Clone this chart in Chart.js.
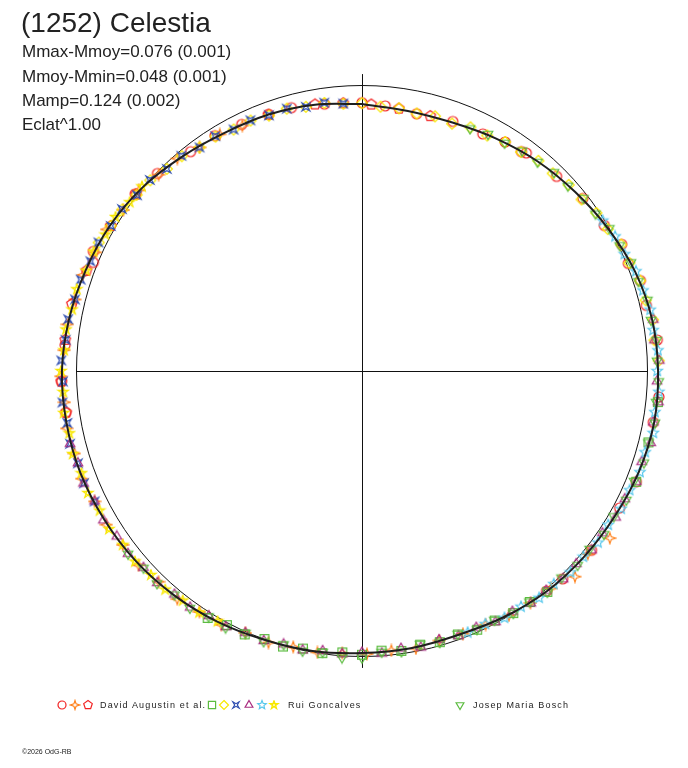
<!DOCTYPE html>
<html>
<head>
<meta charset="utf-8">
<script src="https://cdn.jsdelivr.net/npm/chart.js@4.4.1/dist/chart.umd.min.js"></script>
<style>
  body { margin: 0; background: #fff; }
  #wrap { position: relative; width: 688px; height: 768px; font-family: "Liberation Sans", Arial, sans-serif; color: #222; }
  #polar { position: absolute; left: 0; top: 0; }
  .txt { position: absolute; white-space: nowrap; line-height: 1; }
  #title { left: 21px; top: 9px; font-size: 28px; }
  .stat { left: 22px; font-size: 17px; }
  .leg { font-size: 9px; letter-spacing: 1.15px; top: 701px; }
  #copy { left: 22px; top: 748px; font-size: 7px; }
</style>
</head>
<body>
<div id="wrap">
  <canvas id="polar" width="688" height="768"></canvas>
  <div class="txt" id="title">(1252) Celestia</div>
  <div class="txt stat" style="top:43px">Mmax-Mmoy=0.076 (0.001)</div>
  <div class="txt stat" style="top:68px">Mmoy-Mmin=0.048 (0.001)</div>
  <div class="txt stat" style="top:92px">Mamp=0.124 (0.002)</div>
  <div class="txt stat" style="top:116px">Eclat^1.00</div>
  <div class="txt leg" style="left:100px">David Augustin et al.</div>
  <div class="txt leg" style="left:288px">Rui Goncalves</div>
  <div class="txt leg" style="left:473px">Josep Maria Bosch</div>
  <div class="txt" id="copy">©2026 OdG-RB</div>
</div>
<script>
// Mean lightcurve (phase in degrees, clockwise from top; relative flux, 1 = circle)
const curvePhase = [0, 10, 20, 30, 40, 50, 60, 70, 80, 90, 100, 110, 120, 130, 140, 150, 160, 170,
                    180, 190, 200, 210, 220, 230, 240, 250, 260, 270, 280, 290, 300, 310, 320, 330, 340, 350];
const curveFlux = [0.935, 0.925, 0.926, 0.940, 0.958, 0.975, 0.996, 1.018, 1.032, 1.037, 1.039, 1.032,
                   1.021, 1.014, 1.007, 0.995, 0.984, 0.986, 0.988, 0.996, 1.002, 1.014, 1.025, 1.035,
                   1.042, 1.049, 1.051, 1.051, 1.042, 1.030, 1.019, 1.002, 0.980, 0.963, 0.956, 0.947];

// David Augustin et al.
const augCirclePhase = [262, 268, 275, 292, 294, 308, 314, 322, 328, 334, 340, 345, 352, 0, 5, 12, 20, 27,
                        32, 36, 37, 45, 52, 59, 64, 68, 72, 77, 84, 95, 100, 112, 118, 128, 136, 140];
const augCircleFlux = [1.048, 1.053, 1.044, 1.015, 1.030, 1.008, 0.996, 0.975, 0.972, 0.961, 0.957, 0.955,
                       0.944, 0.940, 0.932, 0.921, 0.930, 0.932, 0.946, 0.950, 0.956, 0.964, 0.982, 0.990,
                       1.012, 1.006, 1.025, 1.022, 1.040, 1.044, 1.036, 1.036, 1.022, 1.020, 1.012, 1.006];
const augStarPhase = [124, 129, 134, 139, 144, 149, 154, 159, 164, 169, 174, 179, 184, 189, 194, 199, 204,
                      209, 214, 219, 224, 229, 234, 239, 244, 249, 254, 259, 264, 269, 274, 279, 284, 289,
                      294, 299, 304, 309, 314, 319, 324, 329, 334];
const augStarFlux = [1.047, 1.018, 1.037, 1.009, 1.004, 0.999, 0.988, 0.986, 0.982, 0.990, 0.984, 0.991,
                     0.990, 0.998, 0.996, 1.006, 1.004, 1.016, 1.018, 1.028, 1.026, 1.037, 1.036, 1.045,
                     1.042, 1.052, 1.048, 1.054, 1.048, 1.055, 1.046, 1.045, 1.036, 1.034, 1.022, 1.023,
                     1.008, 1.006, 0.990, 0.986, 0.968, 0.967, 0.956];
const augPentaPhase = [340, 350, 356, 2, 8, 15, 262, 268, 276, 283, 290, 300, 308];
const augPentaFlux = [0.955, 0.948, 0.940, 0.934, 0.928, 0.924, 1.046, 1.054, 1.045, 1.043, 1.027, 1.016, 1.004];

// Rui Goncalves
const rgSquarePhase = [96, 104, 112, 140, 144, 148, 152, 156, 160, 164, 168, 172, 176, 180, 184, 188, 192,
                       196, 200, 204, 208, 212];
const rgSquareFlux = [1.042, 1.034, 1.036, 1.010, 1.000, 1.000, 0.990, 0.992, 0.982, 0.988, 0.980, 0.990,
                      0.982, 0.994, 0.988, 0.998, 0.994, 1.004, 0.999, 1.010, 1.008, 1.020];
const rgDiamondPhase = [296, 300, 304, 308, 312, 316, 320, 324, 328, 332, 336, 340, 344, 348, 352, 356, 0,
                        4, 8, 12, 16, 20, 24, 28, 32, 36, 40, 44, 48, 52, 56, 60, 64, 68, 72, 76, 80, 84, 88];
const rgDiamondFlux = [1.026, 1.016, 1.012, 1.002, 0.998, 0.984, 0.982, 0.968, 0.968, 0.958, 0.960, 0.952,
                       0.956, 0.946, 0.948, 0.938, 0.938, 0.928, 0.929, 0.922, 0.928, 0.922, 0.934, 0.934,
                       0.946, 0.948, 0.961, 0.962, 0.974, 0.976, 0.990, 0.994, 1.010, 1.010, 1.024, 1.024,
                       1.035, 1.030, 1.040];
const rgNavyPhase = [244, 248, 252, 256, 260, 264, 268, 272, 276, 280, 284, 288, 292, 296, 300, 304, 308,
                     312, 316, 320, 324, 328, 332, 336, 340, 344, 348, 352, 356];
const rgNavyFlux = [1.042, 1.050, 1.046, 1.054, 1.048, 1.055, 1.048, 1.054, 1.044, 1.045, 1.036, 1.036,
                    1.026, 1.027, 1.016, 1.014, 1.000, 1.000, 0.984, 0.984, 0.968, 0.970, 0.958, 0.961,
                    0.953, 0.956, 0.946, 0.949, 0.939];
const rgTrianglePhase = [80, 84, 88, 92, 96, 100, 104, 108, 112, 116, 120, 124, 128, 132, 136, 140, 144, 148,
                         152, 156, 160, 164, 168, 172, 176, 180, 184, 188, 192, 196, 200, 204, 208, 212,
                         216, 220, 224, 228, 232, 236, 240, 244, 248, 252, 256];
const rgTriangleFlux = [1.036, 1.030, 1.042, 1.034, 1.044, 1.036, 1.042, 1.030, 1.036, 1.024, 1.026, 1.016,
                        1.020, 1.010, 1.014, 1.004, 1.006, 0.994, 0.996, 0.984, 0.988, 0.980, 0.990, 0.982,
                        0.992, 0.986, 0.994, 0.990, 1.000, 0.996, 1.006, 1.004, 1.016, 1.012, 1.024, 1.022,
                        1.032, 1.030, 1.040, 1.036, 1.046, 1.042, 1.052, 1.046, 1.054];
const rgCyanPhase = [58, 62, 66, 70, 74, 78, 82, 86, 90, 94, 98, 102, 106, 110, 114, 118, 122, 126, 130,
                     134, 138, 142, 146, 150, 154, 158];
const rgCyanFlux = [0.994, 1.004, 1.006, 1.021, 1.024, 1.032, 1.030, 1.039, 1.034, 1.042, 1.036, 1.043,
                    1.032, 1.036, 1.026, 1.028, 1.017, 1.022, 1.012, 1.015, 1.004, 1.008, 0.996, 0.998,
                    0.986, 0.988];
const rgYellowStarPhase = [210, 214, 218, 222, 226, 230, 234, 238, 242, 246, 250, 254, 258, 262, 266, 270,
                           274, 278, 282, 286, 290, 294, 298, 302, 306, 310];
const rgYellowStarFlux = [1.012, 1.020, 1.020, 1.030, 1.028, 1.038, 1.036, 1.045, 1.041, 1.051, 1.046, 1.054,
                          1.048, 1.055, 1.049, 1.054, 1.046, 1.047, 1.038, 1.039, 1.028, 1.029, 1.018, 1.018,
                          1.006, 1.006];

// Josep Maria Bosch
const boschPhase = [24, 28, 32, 36, 40, 44, 48, 52, 56, 60, 64, 68, 72, 76, 80, 84, 88, 92, 96, 100, 104,
                    108, 112, 116, 120, 124, 128, 132, 136, 140, 144, 148, 152, 156, 160, 164, 168, 172,
                    176, 180, 184, 188, 192, 196, 200, 204, 208, 212, 216, 220, 224, 228, 232];
const boschFlux = [0.930, 0.940, 0.942, 0.954, 0.956, 0.968, 0.970, 0.984, 0.986, 1.000, 1.004, 1.016,
                   1.018, 1.030, 1.028, 1.038, 1.034, 1.040, 1.036, 1.042, 1.034, 1.038, 1.028, 1.030,
                   1.018, 1.022, 1.012, 1.016, 1.006, 1.010, 0.998, 1.000, 0.988, 0.990, 0.980, 0.988,
                   0.978, 0.992, 0.986, 1.004, 1.006, 0.994, 1.002, 0.996, 1.008, 1.004, 1.018, 1.014,
                   1.026, 1.022, 1.034, 1.030, 1.040];

// page layout: circle centre and radius in pixels
const CX = 362, CY = 371, R_PX = 285.5, W = 688, H = 768;

function toXY(phases, fluxes) {
    return phases.map((p, i) => {
        const a = p * Math.PI / 180;
        return { x: fluxes[i] * Math.sin(a), y: fluxes[i] * Math.cos(a) };
    });
}

/**
 * Small outline symbols used as point styles
 */
function makeSymbol(shape, color, size) {
    const c = document.createElement('canvas');
    c.width = c.height = size + 3;
    const g = c.getContext('2d');
    const m = (size + 3) / 2, r = size / 2;
    g.strokeStyle = color;
    g.lineWidth = 1.2;
    const star = (n, rot, inner) => {
        for (let k = 0; k < n * 2; k++) {
            const rr = k % 2 ? r * inner : r;
            const a = rot + k * Math.PI / n;
            const px = m + rr * Math.cos(a), py = m + rr * Math.sin(a);
            k ? g.lineTo(px, py) : g.moveTo(px, py);
        }
        g.closePath();
    };
    const poly = (n, rot) => {
        for (let k = 0; k < n; k++) {
            const a = rot + k * 2 * Math.PI / n;
            const px = m + r * Math.cos(a), py = m + r * Math.sin(a);
            k ? g.lineTo(px, py) : g.moveTo(px, py);
        }
        g.closePath();
    };
    g.beginPath();
    switch (shape) {
        case 'circle': g.arc(m, m, r - 0.5, 0, Math.PI * 2); break;
        case 'star4': star(4, -Math.PI / 2, 0.35); break;
        case 'star4x': star(4, -Math.PI / 4, 0.3); break;
        case 'pentagon': poly(5, -Math.PI / 2); break;
        case 'square': g.rect(m - r * 0.8, m - r * 0.8, r * 1.6, r * 1.6); break;
        case 'diamond': poly(4, -Math.PI / 2); break;
        case 'triangle': poly(3, -Math.PI / 2); break;
        case 'triangleDown': poly(3, Math.PI / 2); break;
        case 'star5': star(5, -Math.PI / 2, 0.45); break;
        case 'pentagram':
            for (let k = 0; k <= 5; k++) {
                const a = -Math.PI / 2 + (k * 2 % 5) * 2 * Math.PI / 5;
                const px = m + r * Math.cos(a), py = m + r * Math.sin(a);
                k ? g.lineTo(px, py) : g.moveTo(px, py);
            }
            break;
    }
    g.stroke();
    return c;
}

const sessions = [
    { phase: augCirclePhase, flux: augCircleFlux, shape: 'circle', color: '#f22222' },
    { phase: augStarPhase, flux: augStarFlux, shape: 'star4', color: '#ff8420' },
    { phase: augPentaPhase, flux: augPentaFlux, shape: 'pentagon', color: '#f22222' },
    { phase: rgSquarePhase, flux: rgSquareFlux, shape: 'square', color: '#5cbc40' },
    { phase: rgDiamondPhase, flux: rgDiamondFlux, shape: 'diamond', color: '#f8e800' },
    { phase: rgNavyPhase, flux: rgNavyFlux, shape: 'star4x', color: '#2c4cb0' },
    { phase: rgTrianglePhase, flux: rgTriangleFlux, shape: 'triangle', color: '#a82c80' },
    { phase: rgCyanPhase, flux: rgCyanFlux, shape: 'star5', color: '#58c8ec' },
    { phase: rgYellowStarPhase, flux: rgYellowStarFlux, shape: 'pentagram', color: '#f8e800' },
    { phase: boschPhase, flux: boschFlux, shape: 'triangleDown', color: '#5cbc40' }
];

// legend symbol positions (pixel centres)
const legendSymbols = [
    [62, 0], [75, 1], [88, 2], [212, 3], [224, 4], [236, 5], [249, 6], [262, 7], [274, 8], [460, 9]
];

const curvePoints = toXY(curvePhase.concat([curvePhase[0] + 360]), curveFlux.concat([curveFlux[0]]));

const datasets = [{
    label: 'mean',
    data: curvePoints,
    showLine: true,
    tension: 0.33,
    borderColor: '#1e1e1e',
    borderWidth: 2,
    pointRadius: 0,
    order: 0
}];

// first sessions drawn first (underneath), the mean curve on top
sessions.forEach((s, i) => {
    s.img = makeSymbol(s.shape, s.color, 11);
    s.legImg = makeSymbol(s.shape, s.color, 9);
    datasets.push({
        data: toXY(s.phase, s.flux),
        pointStyle: s.img,
        pointRadius: 5,
        showLine: false,
        order: sessions.length - i
    });
});

const framePlugin = {
    id: 'frame',
    beforeDatasetsDraw(chart) {
        const { ctx, scales: { x, y } } = chart;
        const cx = x.getPixelForValue(0), cy = y.getPixelForValue(0);
        const rad = x.getPixelForValue(1) - cx;
        ctx.save();
        ctx.strokeStyle = '#111';
        ctx.lineWidth = 1;
        ctx.beginPath();
        ctx.arc(cx, cy, rad, 0, Math.PI * 2);
        ctx.moveTo(x.getPixelForValue(-1), Math.round(cy) + 0.5);
        ctx.lineTo(x.getPixelForValue(1), Math.round(cy) + 0.5);
        ctx.moveTo(Math.round(cx) + 0.5, y.getPixelForValue(1.04));
        ctx.lineTo(Math.round(cx) + 0.5, y.getPixelForValue(-1.04));
        ctx.stroke();
        ctx.restore();
    },
    afterDraw(chart) {
        const ctx = chart.ctx;
        legendSymbols.forEach(([px, idx]) => {
            const im = sessions[idx].legImg;
            ctx.drawImage(im, px - im.width / 2, 705 - im.height / 2);
        });
    }
};

new Chart(document.getElementById('polar'), {
    type: 'scatter',
    data: { datasets },
    options: {
        responsive: false,
        animation: false,
        layout: { padding: 0, autoPadding: false },
        plugins: { legend: { display: false }, tooltip: { enabled: false } },
        scales: {
            x: { type: 'linear', display: false, min: -CX / R_PX, max: (W - CX) / R_PX },
            y: { type: 'linear', display: false, min: -(H - CY) / R_PX, max: CY / R_PX }
        }
    },
    plugins: [framePlugin]
});
</script>
</body>
</html>
